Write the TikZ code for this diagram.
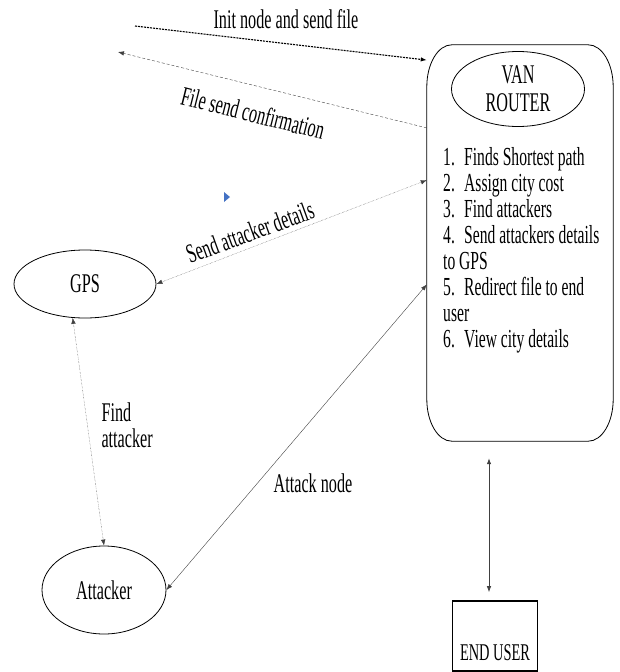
\documentclass[tikz,border=0pt]{standalone}
\usepackage{fontspec}
\setmainfont{Liberation Serif}[FakeStretch=0.6]
\usepackage{tikz}
\usetikzlibrary{positioning}
\usetikzlibrary{shapes.geometric}
\usetikzlibrary{arrows.meta}
\usepackage{xcolor}
\definecolor{markblue}{HTML}{4472C4}

\tikzset{
    entity/.style={ellipse, draw, line width=0.8pt, inner sep=0pt},
    link/.style={draw=black!75, line width=0.4pt},
    >={Latex[length=6pt,width=4.5pt]}
}

\begin{document}
\begin{tikzpicture}[x=1pt, y=-1pt, font=\fontsize{27}{26}\selectfont]
    \useasboundingbox (0,0) rectangle (619,672);

    % VAN router box
    \node[minimum width=186pt, minimum height=396pt, inner sep=0pt] (router) at (520,243) {};
    \draw[line width=0.8pt] ([xshift=25pt]router.north west) -- ([xshift=-25pt]router.north east)
        arc[start angle=90, end angle=0, x radius=25pt, y radius=42pt]
        -- ([yshift=42pt]router.south east)
        arc[start angle=0, end angle=-90, x radius=25pt, y radius=42pt]
        -- ([xshift=25pt]router.south west)
        arc[start angle=270, end angle=180, x radius=25pt, y radius=42pt]
        -- ([yshift=-42pt]router.north west)
        arc[start angle=180, end angle=90, x radius=25pt, y radius=42pt] -- cycle;
    \node[entity, minimum width=133pt, minimum height=75pt, align=center,
          font=\fontsize{27}{28}\selectfont] (van) at (518,89) {VAN\\ROUTER};
    \node[anchor=north west, align=left, inner sep=0pt,
          font=\fontsize{26}{26}\selectfont] (tasks) at (443,147) {%
        \makebox[21pt][l]{1.}Finds Shortest path\\
        \makebox[21pt][l]{2.}Assign city cost\\
        \makebox[21pt][l]{3.}Find attackers\\
        \makebox[21pt][l]{4.}Send attackers details\\
        to GPS\\
        \makebox[21pt][l]{5.}Redirect file to end\\
        user\\
        \makebox[21pt][l]{6.}View city details};

    % GPS and attacker
    \node[entity, minimum width=142pt, minimum height=68pt] (gps) at (85,284) {GPS};
    \node[entity, minimum width=124pt, minimum height=88pt] (attacker) at (104,590) {Attacker};

    % End user
    \node[draw, line width=1.6pt, minimum width=85pt, inner xsep=5pt, inner ysep=10pt,
          text height=49pt, text depth=1pt, font=\fontsize{24}{24}\selectfont] (enduser) at (495,636) {END USER};

    % Free ends of the top messages
    \coordinate (initstart) at (135,26);
    \coordinate (confirmend) at (118,52);

    % Messages
    \draw[line width=1.1pt, dash pattern=on 2pt off 1pt, ->] (initstart) -- (router.117.6);
    \node at (286,19) {Init node and send file};
    \draw[link, densely dashed, ->] (router.129) -- (confirmend);
    \node[rotate=-14] at (253,113) {File send confirmation};
    \draw[link, densely dotted, <->] (gps.east) -- (router.146.7);
    \node[rotate=20] at (250,232) {Send attacker details};
    \draw[link, densely dotted, <->] (gps.250) -- (attacker.north);
    \node[anchor=west, align=left] at (98,425) {Find\\attacker};
    \draw[link, <->] (attacker.east) -- (router.204.3);
    \node at (313,483) {Attack node};
    \draw[link, line width=0.8pt, <->, shorten <=17pt, shorten >=8pt]
        ([xshift=-6pt]router.south -| enduser.north) -- ([xshift=-6pt]enduser.north);

    % Blue mark
    \fill[markblue] (224,192) -- (230,197) -- (224,202) -- cycle;
\end{tikzpicture}
\end{document}
